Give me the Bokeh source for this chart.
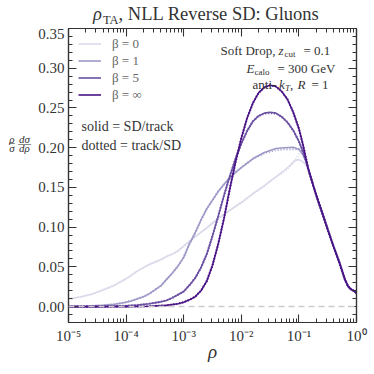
from bokeh.plotting import figure
from bokeh.layouts import column, row
from bokeh.models import (Label, Legend, LegendItem, Span, LinearAxis, LogAxis, Div,
                          FixedTicker, CustomJSTickFormatter, PrintfTickFormatter)
from bokeh.embed import file_html
from bokeh.resources import INLINE

# ---------------- data (log10 rho, rho/sigma dsigma/drho) ----------------
tail_lx = [-0.75, -0.67, -0.6, -0.5, -0.4, -0.3, -0.2, -0.15, -0.1, -0.05, 0.0]
tail_y = [0.152, 0.134, 0.119, 0.097, 0.076, 0.056, 0.034, 0.026, 0.022, 0.020, 0.017]

b0_lx = [-5.0, -4.8, -4.6, -4.4, -4.2, -4.0, -3.9, -3.8, -3.7, -3.6, -3.5, -3.4, -3.3,
         -3.2, -3.1, -3.0, -2.9, -2.8, -2.6, -2.4, -2.2, -2.0, -1.8, -1.6, -1.48,
         -1.25, -1.15, -1.07, -1.0, -0.95, -0.9, -0.84]
b0_y = [0.0095, 0.012, 0.0155, 0.021, 0.027, 0.035, 0.040, 0.045, 0.049, 0.053, 0.056,
        0.059, 0.063, 0.066, 0.070, 0.076, 0.082, 0.088, 0.099, 0.111, 0.121, 0.131,
        0.142, 0.152, 0.159, 0.1715, 0.178, 0.184, 0.185, 0.183, 0.180, 0.174]
b0_dot_y = [0.0095, 0.012, 0.0155, 0.021, 0.027, 0.035, 0.040, 0.045, 0.049, 0.053, 0.056,
            0.059, 0.063, 0.066, 0.070, 0.076, 0.082, 0.088, 0.099, 0.111, 0.121, 0.131,
            0.142, 0.152, 0.159, 0.170, 0.177, 0.183, 0.192, 0.197, 0.186, 0.174]

b1_lx = [-5.0, -4.7, -4.4, -4.2, -4.0, -3.9, -3.8, -3.7, -3.6, -3.5, -3.4, -3.3, -3.2,
         -3.1, -3.0, -2.9, -2.8, -2.7, -2.6, -2.5, -2.4, -2.3, -2.2, -2.1, -2.0, -1.8,
         -1.6, -1.4, -1.25, -1.1, -1.0, -0.93, -0.87, -0.84]
b1_y = [0.0, 0.0005, 0.0015, 0.003, 0.0055, 0.0075, 0.010, 0.0125, 0.016, 0.021, 0.026,
        0.034, 0.042, 0.051, 0.062, 0.079, 0.093, 0.109, 0.123, 0.134, 0.145, 0.154,
        0.162, 0.169, 0.175, 0.186, 0.194, 0.199, 0.200, 0.2005, 0.198, 0.191, 0.181, 0.174]
b1_dot_y = [0.0, 0.0005, 0.0015, 0.003, 0.0055, 0.0075, 0.010, 0.0125, 0.016, 0.021, 0.026,
            0.034, 0.042, 0.051, 0.062, 0.079, 0.093, 0.109, 0.123, 0.134, 0.145, 0.154,
            0.162, 0.169, 0.175, 0.186, 0.193, 0.197, 0.198, 0.198, 0.198, 0.194, 0.182, 0.174]

b5_lx = [-5.0, -4.5, -4.0, -3.8, -3.6, -3.4, -3.3, -3.2, -3.1, -3.0, -2.9, -2.8, -2.7,
         -2.6, -2.5, -2.4, -2.3, -2.2, -2.1, -2.0, -1.9, -1.8, -1.7, -1.6, -1.5, -1.4,
         -1.3, -1.2, -1.1, -1.0, -0.93, -0.87, -0.84]
b5_y = [0.0, 0.0, 0.001, 0.002, 0.0035, 0.006, 0.0078, 0.011, 0.015, 0.019, 0.027, 0.036,
        0.049, 0.066, 0.089, 0.114, 0.140, 0.164, 0.186, 0.205, 0.221, 0.233, 0.240,
        0.2435, 0.2445, 0.2435, 0.239, 0.232, 0.222, 0.208, 0.195, 0.182, 0.174]
b5_dot_y = [0.0, 0.0, 0.001, 0.002, 0.0035, 0.006, 0.0078, 0.011, 0.015, 0.019, 0.027, 0.036,
            0.049, 0.066, 0.089, 0.114, 0.140, 0.164, 0.186, 0.205, 0.221, 0.233, 0.240,
            0.243, 0.2435, 0.243, 0.239, 0.232, 0.222, 0.208, 0.195, 0.182, 0.174]

binf_lx = [-5.0, -4.5, -4.0, -3.6, -3.3, -3.1, -3.0, -2.9, -2.8, -2.7, -2.6, -2.5, -2.4,
           -2.3, -2.2, -2.1, -2.0, -1.9, -1.8, -1.7, -1.6, -1.5, -1.4, -1.3, -1.2, -1.1,
           -1.0, -0.93, -0.87, -0.84]
binf_y = [0.0, 0.0, 0.0, 0.0005, 0.0015, 0.0035, 0.0055, 0.0085, 0.0125, 0.020, 0.032,
          0.052, 0.079, 0.111, 0.148, 0.182, 0.212, 0.237, 0.256, 0.269, 0.276, 0.2785,
          0.277, 0.271, 0.261, 0.245, 0.224, 0.204, 0.184, 0.174]

labels = ["β = 0", "β = 1", "β = 5", "β = ∞"]
colors = ["#dadaeb", "#9e9ac8", "#6a51a3", "#4a1486"]
x_tick_exps = [-5, -4, -3, -2, -1, 0]
y_ticks = [0.00, 0.05, 0.10, 0.15, 0.20, 0.25, 0.30, 0.35]
y_minor = [-0.02, -0.01, 0.01, 0.02, 0.03, 0.04, 0.06, 0.07, 0.08, 0.09, 0.11, 0.12, 0.13,
           0.14, 0.16, 0.17, 0.18, 0.19, 0.21, 0.22, 0.23, 0.24, 0.26, 0.27, 0.28, 0.29,
           0.31, 0.32, 0.33, 0.34]

# ---------------- helpers ----------------
def rho(lx):
    return [10 ** v for v in lx]

def full(lx, y):
    return rho(lx + tail_lx), y + tail_y

# page pixel -> data coordinates of the main frame (text placement only)
FL, DEC, FB0, YS = 67.0, 57.6, 306.0, 793.0
def X(px):
    return 10 ** ((px - FL) / DEC - 5)
def Y(py):
    return (FB0 - py) / YS

SERIF = "Liberation Serif"
TXT = "#333333"
TITLE_H = 28      # height of the title strip
YLAB_W = 35       # width of the y-label strip
MAIN_H = 374 - TITLE_H

p = figure(frame_width=288, frame_height=294, x_axis_type="log", x_range=(1e-5, 1),
           y_range=(-0.02, 0.35), output_backend="svg", toolbar_location=None,
           title_location=None,
           min_border_left=67 - YLAB_W, min_border_right=19,
           min_border_top=0, min_border_bottom=50)
p.grid.visible = False
p.outline_line_color = TXT
p.outline_line_width = 1.2
p.background_fill_alpha = 0
p.border_fill_alpha = 0

# zero line
p.add_layout(Span(location=0, dimension="width", line_color="#cccccc",
                  line_dash="6 4", line_width=1.5))

series = [(b0_lx, b0_y, b0_dot_y), (b1_lx, b1_y, b1_dot_y),
          (b5_lx, b5_y, b5_dot_y), (binf_lx, binf_y, binf_y)]
solid_r = []
for (lx, ys, yd), c in zip(series, colors):
    xs, yy = full(lx, ys)
    r = p.line(xs, yy, line_color=c, line_width=1.6)
    solid_r.append(r)
    xd, ydd = full(lx, yd)
    p.line(xd, ydd, line_color=c, line_width=2.2, line_dash="1 2")

# ---------------- axes ----------------
major = [10.0 ** e for e in x_tick_exps]
minor = [m * 10.0 ** e for e in x_tick_exps[:-1] for m in range(2, 10)]
xt = FixedTicker(ticks=major, minor_ticks=minor)
yt = FixedTicker(ticks=y_ticks, minor_ticks=y_minor)
fmt = CustomJSTickFormatter(code="""
const sup = {"-":"\u207b","0":"\u2070","1":"\u00b9","2":"\u00b2","3":"\u00b3","4":"\u2074","5":"\u2075"};
const e = Math.round(Math.log10(tick));
return "10" + String(e).split("").map(c => sup[c]).join("");
""")
blank = CustomJSTickFormatter(code="return '';")

def style(ax, show):
    ax.axis_line_color = TXT
    ax.axis_line_width = 1.2
    ax.major_tick_line_color = TXT
    ax.minor_tick_line_color = TXT
    ax.major_tick_in = 8
    ax.major_tick_out = 0
    ax.minor_tick_in = 4
    ax.minor_tick_out = 0
    ax.major_tick_line_width = 1.1
    ax.minor_tick_line_width = 1.0
    ax.major_label_text_font = SERIF
    ax.major_label_text_color = TXT
    if show:
        ax.major_label_text_font_size = "15px"
    else:
        ax.major_label_text_font_size = "1px"
        ax.major_label_standoff = 0

xa = p.xaxis[0]
xa.ticker = xt
xa.formatter = fmt
xa.major_label_standoff = 5
style(xa, True)
xa.axis_label = "ρ"
xa.axis_label_text_font = SERIF
xa.axis_label_text_font_style = "italic"
xa.axis_label_text_font_size = "19px"
xa.axis_label_text_color = TXT
xa.axis_label_standoff = -6

ya = p.yaxis[0]
ya.ticker = yt
ya.formatter = PrintfTickFormatter(format="%.2f")
ya.major_label_standoff = 4
style(ya, True)

top = LogAxis(ticker=xt, formatter=blank)
style(top, False)
p.add_layout(top, "above")
right = LinearAxis(ticker=yt, formatter=blank)
style(right, False)
p.add_layout(right, "right")

# ---------------- legend ----------------
legend = Legend(items=[LegendItem(label=l, renderers=[r]) for l, r in zip(labels, solid_r)],
                location=(10, 219), glyph_width=23, glyph_height=17, label_height=17,
                label_standoff=11, spacing=0, padding=0, margin=0,
                background_fill_alpha=0, border_line_alpha=0,
                label_text_font=SERIF, label_text_font_size="13px",
                label_text_color="#666666")
p.add_layout(legend)

# ---------------- texts inside the frame ----------------
def lab(fig, text, x, y, size, style="normal", align="left", color=TXT,
        baseline="alphabetic"):
    fig.add_layout(Label(x=x, y=y, text=text, text_font=SERIF,
                         text_font_size=f"{size}px", text_font_style=style,
                         text_align=align, text_baseline=baseline, text_color=color))

def mlab(text, px, py, size, style="normal", align="left"):
    lab(p, text, X(px), Y(py), size, style, align)

mlab("solid = SD/track", 80, 126.5, 14)
mlab("dotted = track/SD", 80, 145.5, 14)

mlab("Soft Drop,", 219, 50, 13)
mlab("z", 277, 50, 13, "italic")
mlab("cut", 283, 53.5, 9)
mlab("= 0.1", 302, 50, 13)

mlab("E", 245, 68, 13, "italic")
mlab("calo", 253, 71.5, 9)
mlab("= 300 GeV", 276, 68, 13)

mlab("anti-", 251, 84.5, 13)
mlab("k", 277.5, 84.5, 13, "italic")
mlab("T", 283.5, 87.5, 9, "italic")
mlab(",", 288.5, 84.5, 13)
mlab("R", 296, 84.5, 13, "italic")
mlab("= 1", 310, 84.5, 13)

# ---------------- title (HTML text strip, not clipped) ----------------
title_html = ('<span style="font-style:italic">ρ</span>'
              '<span style="font-size:12.5px; position:relative; top:4px; '
              'margin-left:1px">TA</span>, NLL Reverse SD: Gluons')
t = Div(text=title_html, width=374, height=TITLE_H,
        styles={"font-family": SERIF, "font-size": "18.5px", "color": TXT,
                "line-height": f"{TITLE_H}px", "padding-left": "93px",
                "white-space": "nowrap", "margin": "0", "overflow": "visible"})

# ---------------- y-label strip ----------------
yl = figure(width=YLAB_W, height=MAIN_H, x_range=(0, YLAB_W), y_range=(0, MAIN_H),
            output_backend="svg", toolbar_location=None, title_location=None,
            min_border=0, min_border_left=0, min_border_right=0,
            min_border_top=0, min_border_bottom=0,
            x_axis_location=None, y_axis_location=None)
yl.grid.visible = False
yl.outline_line_color = None
yl.background_fill_alpha = 0
yl.border_fill_alpha = 0
def ylab(text, px, py, size, style="italic", baseline="alphabetic"):
    lab(yl, text, px, 374 - py, size, style, align="center", baseline=baseline)
ylab("ρ", 11.5, 157, 11)
ylab("σ", 11.5, 168, 11)
ylab("dσ", 24, 157, 11)
ylab("dρ", 24, 168, 11)
ylab("–", 11.5, 161, 11, "normal", "middle")
ylab("—", 24, 161, 13, "normal", "middle")

layout = column(t, row(yl, p, spacing=0), spacing=0)
open("out.html", "w").write(file_html(layout, INLINE))
